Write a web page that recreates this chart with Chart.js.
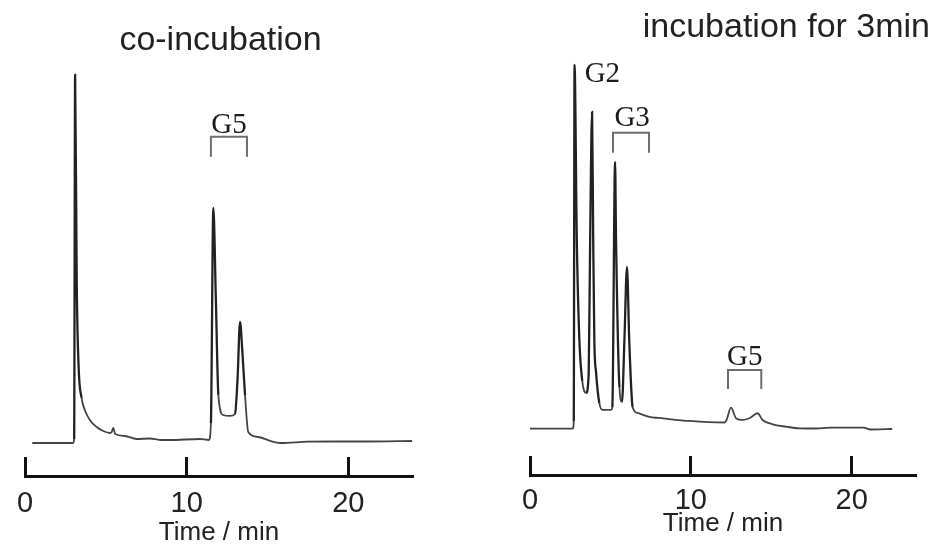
<!DOCTYPE html>
<html lang="en">
<head>
  <meta charset="UTF-8">
  <title>Chromatograms: co-incubation vs incubation for 3min</title>
  <script src="https://cdn.jsdelivr.net/npm/chart.js"></script>
  <style>
    body {
      margin: 0;
      background: #fff;
    }
    .panel {
      position: absolute;
      top: 0;
      width: 468px;
      height: 552px;
    }
    #leftPanel { left: 0; }
    #rightPanel { left: 468px; }
  </style>
</head>
<body>
  <div class="panel" id="leftPanel"><canvas id="coChart" width="468" height="552"></canvas></div>
  <div class="panel" id="rightPanel"><canvas id="incChart" width="468" height="552"></canvas></div>

  <script>
    // co-incubation trace (time in min, detector signal in arbitrary units)
    const coTime = [0.45, 2.98, 3.04, 3.10, 3.20, 3.32, 3.50, 3.70, 4.01, 4.43, 4.84, 5.25, 5.36, 5.46, 5.58,
      6.18, 6.90, 7.73, 8.35, 8.97, 10.82, 11.38, 11.50, 11.65, 11.80, 11.96, 12.25, 12.68, 12.99,
      13.15, 13.30, 13.45, 13.61, 13.81, 14.43, 15.26, 15.78, 17.5, 19.0, 21.2, 23.95];
    const coSignal = [0, 0, 4, 368, 160, 75, 45, 33, 23, 16, 12, 10, 11, 15, 9,
      7, 4, 4.5, 3, 3, 4, 3, 20, 235, 148, 48, 28, 27, 29,
      65, 121, 90, 48, 11, 6, 1.5, 0, 1.3, 1.5, 1.5, 2];

    // incubation for 3 min trace
    const incTime = [0, 2.66, 2.72, 2.77, 2.91, 3.07, 3.25, 3.49, 3.65, 3.74, 3.86, 3.93, 4.00, 4.11, 4.31,
      4.50, 5.04, 5.12, 5.29, 5.35, 5.56, 5.72, 5.87, 6.03, 6.17, 6.38, 6.69, 7.42, 8.04, 9.91,
      12.09, 12.22, 12.50, 12.81, 13.22, 13.64, 14.15, 14.46, 15.08, 15.92, 16.75, 17.78, 18.67,
      20.76, 21.16, 22.52];
    const incSignal = [0.3, 0.3, 8, 364, 189, 89, 48, 36, 56, 189, 317, 189, 89, 56, 26,
      19, 19, 22, 267, 189, 42, 27, 89, 162, 89, 22, 16, 12, 11, 8,
      6.5, 9, 21.3, 10.7, 9, 10.7, 15.7, 9, 4.7, 2.3, 0.7, 0.5, 1.3,
      1.3, -0.5, 0];

    // brackets: [start min, end min, top signal, foot signal]
    const coBrackets = [[11.50, 13.73, 306, 286]];
    const incBrackets = [[5.16, 7.40, 296, 276], [12.31, 14.38, 59, 40]];

    // peak labels
    const coLabels = ['G5'];
    const coLabelTime = [12.62];
    const coLabelSignal = [310];
    const incLabels = ['G2', 'G3', 'G5'];
    const incLabelTime = [4.50, 6.35, 13.35];
    const incLabelSignal = [347, 303, 64];

    const sans = '"Liberation Sans", Arial, sans-serif';
    const serif = '"Liberation Serif", "Times New Roman", serif';

    const peakLabels = {
      id: 'peakLabels',
      afterDatasetsDraw(chart, args, opts) {
        const { ctx } = chart;
        const x = chart.scales.x, y = chart.scales.y;
        ctx.save();
        ctx.font = '29px ' + serif;
        ctx.fillStyle = '#1c1c1c';
        ctx.textAlign = 'center';
        ctx.textBaseline = 'alphabetic';
        opts.text.forEach((t, i) => {
          ctx.fillText(t, x.getPixelForValue(opts.time[i]), y.getPixelForValue(opts.signal[i]));
        });
        ctx.restore();
      }
    };

    function bracketSets(brackets) {
      return brackets.map(b => ({
        data: [{ x: b[0], y: b[3] }, { x: b[0], y: b[2] }, { x: b[1], y: b[2] }, { x: b[1], y: b[3] }],
        borderColor: '#6e6e6e',
        borderWidth: 2,
        pointRadius: 0,
        tension: 0
      }));
    }

    // the printed trace is darker and heavier on the tall peaks than on the baseline
    const isTall = c => Math.max(c.p0.parsed.y, c.p1.parsed.y) > 50;

    function makeChart(id, cfg) {
      const trace = cfg.time.map((t, i) => ({ x: t, y: cfg.signal[i] }));
      return new Chart(document.getElementById(id), {
        type: 'line',
        data: {
          datasets: [{
            data: trace,
            borderColor: '#444',
            borderWidth: 1.8,
            pointRadius: 0,
            cubicInterpolationMode: 'monotone',
            segment: {
              borderColor: c => isTall(c) ? '#222' : undefined,
              borderWidth: c => isTall(c) ? 2.3 : undefined
            }
          }].concat(bracketSets(cfg.brackets))
        },
        options: {
          responsive: false,
          animation: false,
          layout: { padding: cfg.padding },
          plugins: {
            legend: { display: false },
            tooltip: { enabled: false },
            title: {
              display: true,
              text: cfg.title,
              align: cfg.titleAlign,
              color: '#222',
              font: { family: sans, size: 34, weight: 'normal' },
              padding: { top: cfg.titleTop, bottom: 0 }
            },
            peakLabels: { text: cfg.labels, time: cfg.labelTime, signal: cfg.labelSignal }
          },
          scales: {
            x: {
              type: 'linear',
              position: 'bottom',
              min: 0,
              max: 24,
              afterFit(scale) { scale.height = cfg.axisHeight; },
              ticks: {
                stepSize: 10,
                includeBounds: false,
                color: '#222',
                padding: 12,
                maxRotation: 0,
                // tall line box pushes the tick numbers below the upward tick marks
                font: { family: sans, size: 29, lineHeight: cfg.tickLine + 'px' }
              },
              grid: {
                drawOnChartArea: false,
                drawTicks: true,
                tickLength: -19,
                tickWidth: 3,
                tickColor: '#111'
              },
              border: { display: true, width: 3, color: '#111' },
              title: {
                display: true,
                text: 'Time / min',
                color: '#222',
                font: { family: sans, size: 26 },
                padding: { top: 0, bottom: cfg.xTitlePad }
              }
            },
            y: {
              position: 'right',
              min: cfg.yMin,
              max: cfg.yMax,
              afterFit(scale) { scale.width = cfg.yWidth; },
              ticks: { display: false },
              grid: { display: false },
              border: { display: false }
            }
          }
        },
        plugins: [peakLabels]
      });
    }

    makeChart('coChart', {
      time: coTime, signal: coSignal, brackets: coBrackets,
      labels: coLabels, labelTime: coLabelTime, labelSignal: coLabelSignal,
      title: 'co-incubation', titleAlign: 'center', titleTop: 20,
      padding: { left: 25, right: 52, top: 0, bottom: 0 }, yWidth: 3,
      axisHeight: 76, tickLine: 70, xTitlePad: 3.4,
      yMin: -33, yMax: 382
    });

    makeChart('incChart', {
      time: incTime, signal: incSignal, brackets: incBrackets,
      labels: incLabels, labelTime: incLabelTime, labelSignal: incLabelSignal,
      title: 'incubation for 3min', titleAlign: 'end', titleTop: 7,
      padding: { left: 62, right: 6, top: 0, bottom: 0 }, yWidth: 14,
      axisHeight: 77, tickLine: 66, xTitlePad: 12.4,
      yMin: -46, yMax: 381
    });
  </script>
</body>
</html>
